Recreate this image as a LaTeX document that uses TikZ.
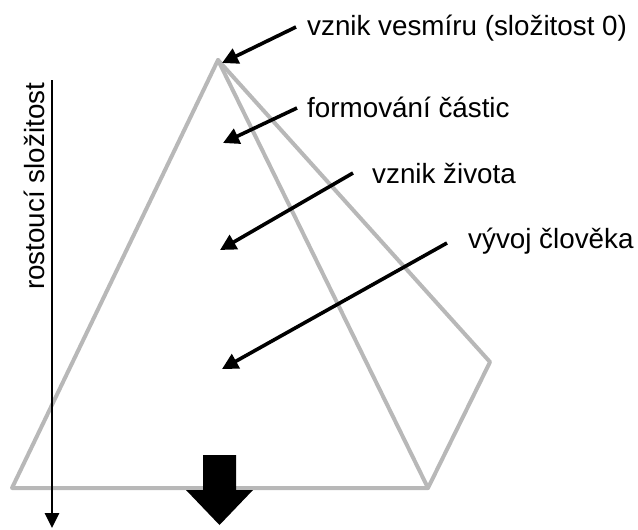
\documentclass[tikz,border=0pt]{standalone}
\usepackage{fontspec}
\setmainfont{Liberation Sans}
\usetikzlibrary{arrows.meta}
\definecolor{edgegray}{HTML}{B8B8B8}
\tikzset{
  edge/.style={draw=edgegray, line width=4pt, line join=round, line cap=round},
  pointer/.style={draw=black, line width=3.6pt, -{Triangle[length=16pt,width=16pt]}},
  axisarrow/.style={draw=black, line width=2.6pt, -{Triangle[length=15pt,width=14pt]}},
  lbl/.style={inner sep=0pt, anchor=base west, font=\fontsize{27.8}{32}\selectfont},
}
\begin{document}
\begin{tikzpicture}[x=1pt,y=-1pt]
\useasboundingbox (0,0) rectangle (638,530);
% pyramid
\coordinate (apex) at (218,60);
\coordinate (bl) at (12,488);
\coordinate (br) at (428,488);
\coordinate (rv) at (490,362);
\draw[edge] (apex) -- (bl) -- (br) -- (rv) -- cycle;
\draw[edge] (apex) -- (br);
% axis
\coordinate (axtop) at (52,80);
\coordinate (axbot) at (52,528);
\draw[axisarrow] (axtop) -- (axbot);
\node[inner sep=0pt, anchor=base west, rotate=90, font=\fontsize{27.8}{32}\selectfont] (axlbl) at (45,290) {rostoucí složitost};
% big down arrow
\fill[black] (203,455) -- (236,455) -- (236,490) -- (253,490) -- (219.5,525) -- (186,490) -- (203,490) -- cycle;
% labels
\node[lbl] (l1) at (307,35) {vznik vesmíru (složitost 0)};
\node[lbl] (l2) at (307,117) {formování částic};
\node[lbl] (l3) at (372,183) {vznik života};
\node[lbl] (l4) at (468,248) {vývoj člověka};
\coordinate (s1) at (296,27);
\coordinate (t1) at (222,63);
\coordinate (s2) at (297,108);
\coordinate (t2) at (223,143);
\coordinate (s3) at (353,173);
\coordinate (t3) at (220,250);
\coordinate (s4) at (447,243);
\coordinate (t4) at (222,369);
\draw[pointer] (s1) -- (t1);
\draw[pointer] (s2) -- (t2);
\draw[pointer] (s3) -- (t3);
\draw[pointer] (s4) -- (t4);
\end{tikzpicture}
\end{document}
